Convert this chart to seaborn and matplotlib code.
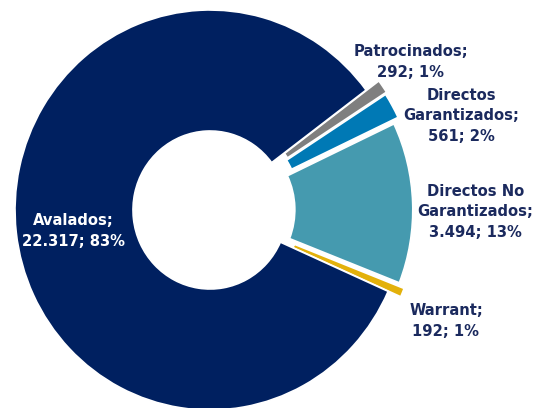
import seaborn as sns
import matplotlib.pyplot as plt

# datos
categorias = ["Warrant", "Directos No\nGarantizados", "Directos\nGarantizados", "Patrocinados", "Avalados"]
valores = [192, 3494, 561, 292, 22317]
colores = ["#E3B10A", "#459AAF", "#0079B5", "#7F7F7F", "#002060"]
separacion = [0.07, 0.04, 0.07, 0.08, 0.0]

sns.set_theme(style="white")
plt.rcParams['font.family'] = ['DejaVu Sans']

total = sum(valores)

def etiqueta(nombre, v):
    miles = f"{v:,}".replace(",", ".")
    return f"{nombre};\n{miles}; {round(v / total * 100):.0f}%"

fig = plt.figure(figsize=(5.37, 4.08), dpi=100)
ax = fig.add_axes([0, 0, 1, 1])

ax.pie(valores, colors=sns.color_palette(colores), explode=separacion,
       startangle=-24, counterclock=True,
       wedgeprops=dict(width=0.605, edgecolor="white", linewidth=1.2))

ax.set_aspect('auto')
ax.set_xlim(-1.077, 1.677)
ax.set_ylim(-0.99, 1.05)
ax.axis('off')

# posiciones de las etiquetas
pos = {
    "Warrant": (1.21, -0.555),
    "Directos No\nGarantizados": (1.36, -0.01),
    "Directos\nGarantizados": (1.29, 0.47),
    "Patrocinados": (1.03, 0.74),
    "Avalados": (-0.70, -0.105),
}

for nombre, v in zip(categorias, valores):
    x, y = pos[nombre]
    color = "white" if nombre == "Avalados" else "#1B2A5E"
    ax.text(x, y, etiqueta(nombre, v), ha='center', va='center',
            fontsize=10.6, fontweight='bold', color=color, linespacing=1.45)

fig.savefig("out.png", dpi=100)
